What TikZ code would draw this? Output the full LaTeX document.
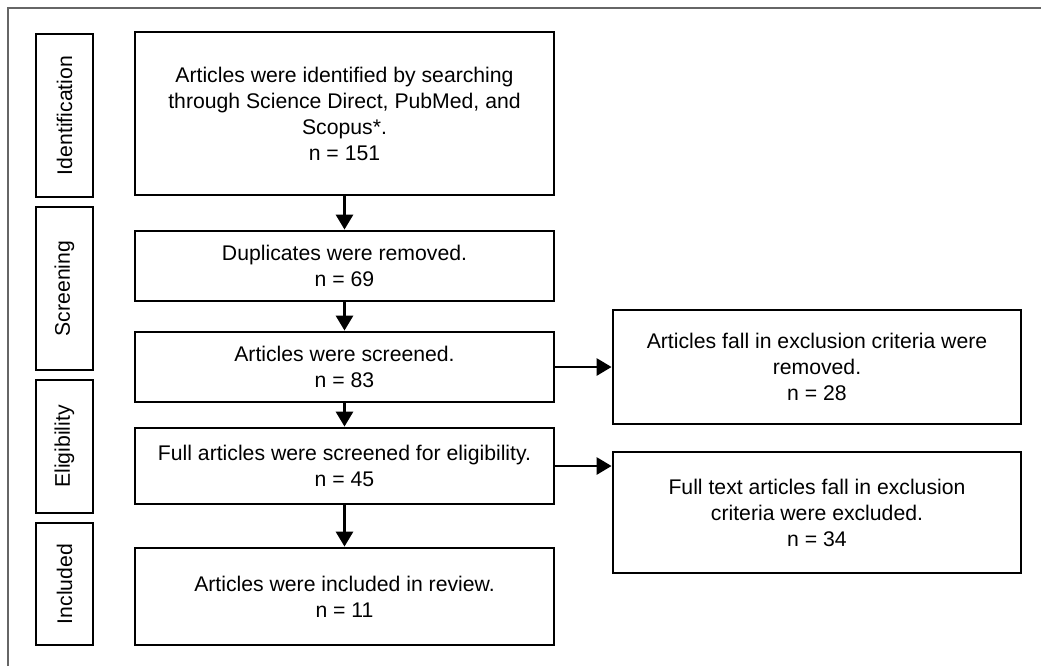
\documentclass[tikz,border=0pt]{standalone}
\usepackage{fontspec}
\setmainfont{Liberation Sans}
\usepackage{tikz}
\usetikzlibrary{arrows.meta}

\begin{document}
\begin{tikzpicture}[x=0.5pt, y=-0.5pt, line width=1.4pt,
  box/.style = {draw, align=center, inner sep=0pt, font=\fontsize{10.6}{13}\selectfont},
  stage/.style = {box, rotate=90, minimum height=28.5pt},
  flow/.style = {-{Triangle[length=7.5pt,width=8.5pt]}}]
  \useasboundingbox (0,0) rectangle (1041,666);
  \draw[gray!80!black, line width=1pt] (8,666) -- (8,8) -- (1041,8);

  \node[stage, minimum width=81.5pt] (ident) at (64.5,115.5) {Identification};
  \node[stage, minimum width=81.5pt] (screen) at (64.5,288.5) {Screening};
  \node[stage, minimum width=66.5pt] (elig) at (64.5,446.5) {Eligibility};
  \node[stage, minimum width=61pt] (incl) at (64.5,584) {Included};

  \node[box, minimum width=209.5pt, minimum height=81.5pt] (found) at (344.5,113.5)
    {Articles were identified by searching\\ through Science Direct, PubMed, and\\ Scopus*.\\ n = 151};
  \node[box, minimum width=209.5pt, minimum height=35pt] (dedup) at (344.5,266)
    {Duplicates were removed.\\ n = 69};
  \node[box, minimum width=209.5pt, minimum height=35pt] (screened) at (344.5,367)
    {Articles were screened.\\ n = 83};
  \node[box, minimum width=209.5pt, minimum height=38pt] (fulltext) at (344.5,466)
    {Full articles were screened for eligibility.\\ n = 45};
  \node[box, minimum width=209.5pt, minimum height=48.5pt] (included) at (344.5,596.5)
    {Articles were included in review.\\ n = 11};

  \node[box, minimum width=204pt, minimum height=57pt] (excl) at (817,367)
    {Articles fall in exclusion criteria were\\ removed.\\ n = 28};
  \node[box, minimum width=204pt, minimum height=60.5pt] (exclfull) at (817,512.5)
    {Full text articles fall in exclusion\\ criteria were excluded.\\ n = 34};

  \draw[flow] (found) -- (dedup);
  \draw[flow] (dedup) -- (screened);
  \draw[flow] (screened) -- (fulltext);
  \draw[flow] (fulltext) -- (included);
  \draw[flow] (screened) -- (excl);
  \draw[flow] (fulltext.east) -- (fulltext.east -| exclfull.west);
\end{tikzpicture}
\end{document}
